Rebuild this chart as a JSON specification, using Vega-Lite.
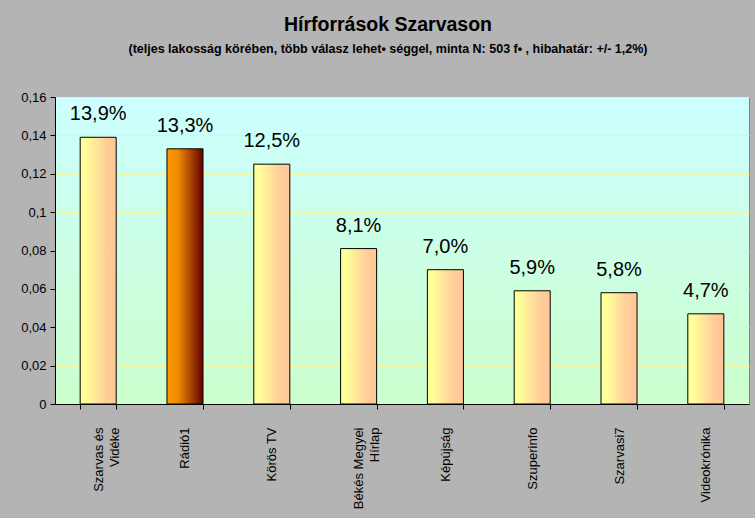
{
  "$schema": "https://vega.github.io/schema/vega-lite/v6.json",
  "width": 694,
  "height": 307,
  "autosize": "none",
  "padding": {"left": 55, "top": 97, "right": 6, "bottom": 114},
  "background": "#b4b4b4",
  "config": {
    "locale": {"number": {"decimal": ",", "thousands": " ", "grouping": [3], "currency": ["", " Ft"]}},
    "font": "Liberation Sans",
    "view": {
      "fill": {"gradient": "linear", "x1": 0, "y1": 0, "x2": 0, "y2": 1, "stops": [{"offset": 0, "color": "#ccffff"}, {"offset": 1, "color": "#ccffcc"}]},
      "stroke": "#808080",
      "strokeWidth": 1
    }
  },
  "title": {
    "text": "Hírforrások Szarvason",
    "subtitle": "(teljes lakosság körében, több válasz lehet• séggel, minta N: 503 f• , hibahatár: +/- 1,2%)",
    "fontSize": 19.5,
    "fontWeight": "bold",
    "font": "Liberation Sans",
    "subtitleFont": "Liberation Sans",
    "subtitleFontSize": 12.5,
    "subtitleFontWeight": "bold",
    "color": "black",
    "subtitleColor": "black",
    "anchor": "middle",
    "dx": -14,
    "offset": 35,
    "subtitlePadding": 7
  },
  "data": {
    "values": [
      {"name": "Szarvas és Vidéke", "value": 0.139},
      {"name": "Rádió1", "value": 0.133},
      {"name": "Körös TV", "value": 0.125},
      {"name": "Békés Megyei Hírlap", "value": 0.081},
      {"name": "Képújság", "value": 0.070},
      {"name": "Szuperinfo", "value": 0.059},
      {"name": "Szarvasi7", "value": 0.058},
      {"name": "Videokrónika", "value": 0.047}
    ]
  },
  "encoding": {
    "x": {
      "field": "name",
      "type": "nominal",
      "sort": ["Szarvas és Vidéke", "Rádió1", "Körös TV", "Békés Megyei Hírlap", "Képújság", "Szuperinfo", "Szarvasi7", "Videokrónika"],
      "scale": {"paddingInner": 0.585, "paddingOuter": 0.29},
      "axis": {
        "title": null,
        "tickBand": "extent",
        "labelAngle": -90,
        "labelAlign": "right",
        "labelBaseline": "middle",
        "labelPadding": 18,
        "labelFontSize": 13,
        "labelColor": "black",
        "labelLineHeight": 16,
        "domainColor": "black",
        "tickColor": "black",
        "tickSize": 5,
        "labelExpr": "datum.value == 'Szarvas és Vidéke' ? ['Szarvas és', 'Vidéke'] : datum.value == 'Békés Megyei Hírlap' ? ['Békés Megyei', 'Hírlap'] : datum.value"
      }
    },
    "y": {
      "field": "value",
      "type": "quantitative",
      "scale": {"domain": [0, 0.16], "nice": false},
      "axis": {
        "title": null,
        "tickCount": 8,
        "format": ".2~f",
        "labelFontSize": 13,
        "labelColor": "black",
        "labelPadding": 4,
        "domainColor": "black",
        "tickColor": "black",
        "tickSize": 5,
        "gridColor": "#eef5a0",
        "gridWidth": 1
      }
    }
  },
  "layer": [
    {
      "transform": [{"filter": "datum.name !== 'Rádió1'"}],
      "mark": {
        "type": "bar",
        "stroke": "black",
        "strokeWidth": 1,
        "fill": {"gradient": "linear", "x1": 0, "y1": 0, "x2": 1, "y2": 0, "stops": [{"offset": 0, "color": "#ffff99"}, {"offset": 0.15, "color": "#ffff99"}, {"offset": 0.75, "color": "#ffcc99"}, {"offset": 1, "color": "#ffc896"}]}
      }
    },
    {
      "transform": [{"filter": "datum.name === 'Rádió1'"}],
      "mark": {
        "type": "bar",
        "stroke": "black",
        "strokeWidth": 1,
        "fill": {"gradient": "linear", "x1": 0, "y1": 0, "x2": 1, "y2": 0, "stops": [{"offset": 0, "color": "#ff9900"}, {"offset": 0.3, "color": "#f08c00"}, {"offset": 1, "color": "#660000"}]}
      }
    },
    {
      "mark": {"type": "text", "baseline": "bottom", "dy": -13, "fontSize": 20, "font": "Liberation Sans", "color": "black"},
      "encoding": {"text": {"field": "value", "type": "quantitative", "format": ".1%"}}
    }
  ]
}
